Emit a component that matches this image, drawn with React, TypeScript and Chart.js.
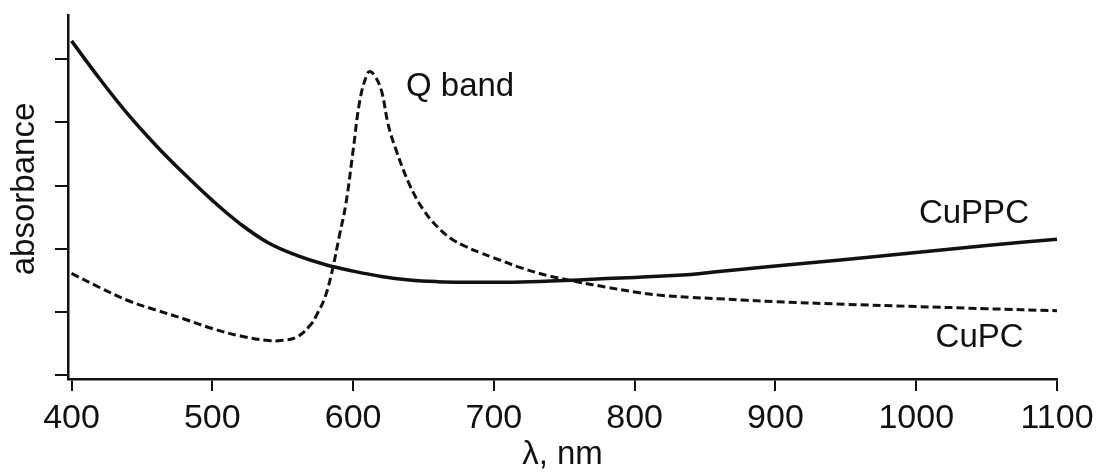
import React, { useEffect, useRef } from "react";
import { Chart, registerables } from "chart.js";

Chart.register(...registerables);

// ---- data ----
const xTickValues = [400, 500, 600, 700, 800, 900, 1000, 1100];
const yTickValues = [0, 1, 2, 3, 4, 5];

const cuppcNm = [400, 420, 440, 460, 480, 500, 520, 540, 560, 580, 600, 620, 640, 660, 680, 700, 720, 740, 760, 780, 800, 820, 840, 860, 900, 950, 1000, 1050, 1100];
const cuppcAbs = [5.29, 4.69, 4.13, 3.635, 3.185, 2.765, 2.39, 2.09, 1.895, 1.75, 1.645, 1.56, 1.505, 1.478, 1.468, 1.468, 1.473, 1.489, 1.505, 1.528, 1.544, 1.568, 1.592, 1.639, 1.726, 1.829, 1.94, 2.051, 2.149];

const cupcNm = [400, 420, 440, 460, 480, 500, 520, 540, 550, 560, 570, 575, 580, 585, 590, 595, 600, 605, 610, 612, 615, 620, 625, 630, 640, 650, 660, 670, 680, 690, 700, 720, 740, 760, 780, 800, 820, 840, 860, 880, 900, 950, 1000, 1050, 1100];
const cupcAbs = [1.608, 1.386, 1.18, 1.029, 0.887, 0.736, 0.618, 0.546, 0.55, 0.6, 0.8, 0.99, 1.227, 1.634, 2.178, 2.726, 3.551, 4.371, 4.767, 4.804, 4.751, 4.514, 3.959, 3.597, 3.019, 2.613, 2.344, 2.154, 2.035, 1.939, 1.856, 1.692, 1.566, 1.473, 1.391, 1.315, 1.259, 1.229, 1.207, 1.183, 1.161, 1.12, 1.085, 1.05, 1.018];

const annotationTexts = ["Q band", "CuPPC", "CuPC"];
const annotationNm = [676, 1041, 1045];
const annotationAbs = [4.42, 2.407, 0.448];

const xTitle = "λ, nm";
const yTitle = "absorbance";

const FONT = '"Liberation Sans", Arial, sans-serif';
const INK = "#111";

export default function App() {
  const ref = useRef<HTMLCanvasElement | null>(null);

  useEffect(() => {
    if (!ref.current) return;

    const textPlugin = {
      id: "textLabels",
      afterDraw(chart: any) {
        const { ctx, scales, chartArea } = chart;
        ctx.save();
        ctx.fillStyle = INK;
        ctx.font = `33px ${FONT}`;
        ctx.textAlign = "center";
        ctx.textBaseline = "alphabetic";
        annotationTexts.forEach((t, i) => {
          ctx.fillText(t, scales.x.getPixelForValue(annotationNm[i]), scales.y.getPixelForValue(annotationAbs[i]));
        });
        // y axis title
        ctx.translate(25, (chartArea.top + chartArea.bottom) / 2 - 8);
        ctx.rotate(-Math.PI / 2);
        ctx.textBaseline = "middle";
        ctx.fillText(yTitle, 0, 0);
        ctx.restore();
      },
    };

    const chart = new Chart(ref.current, {
      type: "line",
      data: {
        datasets: [
          {
            label: "CuPPC",
            data: cuppcNm.map((x, i) => ({ x, y: cuppcAbs[i] })),
            borderColor: INK,
            borderWidth: 3.5,
            pointRadius: 0,
            tension: 0.4,
            fill: false,
          },
          {
            label: "CuPC",
            data: cupcNm.map((x, i) => ({ x, y: cupcAbs[i] })),
            borderColor: INK,
            borderWidth: 3,
            borderDash: [8, 4],
            pointRadius: 0,
            tension: 0.4,
            fill: false,
          },
        ],
      },
      options: {
        responsive: false,
        animation: false,
        devicePixelRatio: 1,
        layout: { padding: { top: 15, right: 39, left: 0, bottom: 0 } },
        plugins: { legend: { display: false }, tooltip: { enabled: false } },
        scales: {
          x: {
            type: "linear",
            min: 397.5,
            max: 1100,
            afterBuildTicks: (scale: any) => {
              scale.ticks = xTickValues.map((v) => ({ value: v }));
            },
            afterFit: (scale: any) => {
              scale.height = 96;
              scale.paddingLeft = 0;
              scale.paddingRight = 0;
            },
            ticks: {
              color: INK,
              font: { family: FONT, size: 34 },
              padding: 7,
              maxRotation: 0,
              autoSkip: false,
              callback: (v: any) => String(v),
            },
            grid: { drawOnChartArea: false, drawTicks: true, tickLength: 12, color: INK, lineWidth: 2 },
            border: { display: true, color: INK, width: 2.5 },
            title: {
              display: true,
              text: xTitle,
              color: INK,
              font: { family: FONT, size: 33 },
              padding: { top: 0, bottom: 0 },
            },
          },
          y: {
            type: "linear",
            min: -0.063,
            max: 5.7,
            afterBuildTicks: (scale: any) => {
              scale.ticks = yTickValues.map((v) => ({ value: v }));
            },
            afterFit: (scale: any) => {
              scale.width = 68;
            },
            ticks: { display: false },
            grid: { drawOnChartArea: false, drawTicks: true, tickLength: 13, color: INK, lineWidth: 2 },
            border: { display: true, color: INK, width: 2.5 },
          },
        },
      },
      plugins: [textPlugin],
    } as any);

    return () => chart.destroy();
  }, []);

  return (
    <div style={{ position: "absolute", left: 0, top: 0, width: 1096, height: 475, background: "#fff" }}>
      <canvas ref={ref} width={1096} height={475} />
    </div>
  );
}
